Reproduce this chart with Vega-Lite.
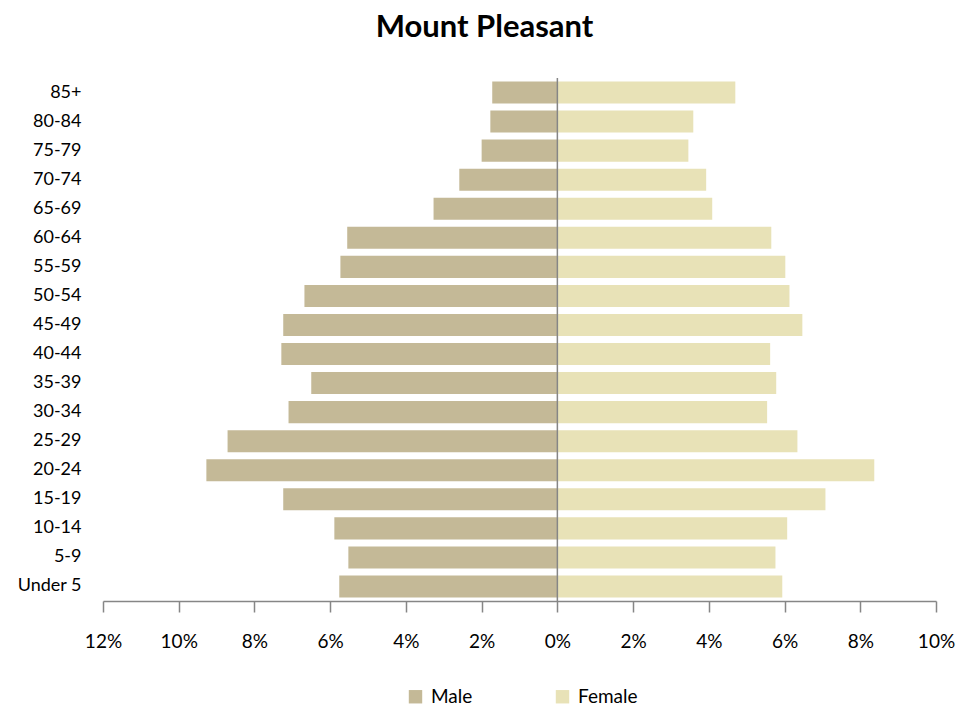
{
  "$schema": "https://vega.github.io/schema/vega-lite/v6.json",
  "autosize": {"type": "none"},
  "width": 833,
  "height": 523,
  "padding": {"left": 103, "top": 78, "right": 43, "bottom": 112},
  "background": "white",
  "title": {"text": "Mount Pleasant", "fontSize": 31, "font": "Lato", "fontWeight": "bold", "color": "#000000", "anchor": "middle", "dx": -35, "offset": 33},
  "config": {
    "view": {"stroke": null},
    "font": "Lato",
    "axis": {"labelFont": "Lato", "labelFontSize": 18, "labelColor": "#000000", "grid": false, "title": null}
  },
  "data": {
    "values": [
      {"age": "85+", "sex": "Male", "pct": 1.72}, {"age": "85+", "sex": "Female", "pct": 4.70},
      {"age": "80-84", "sex": "Male", "pct": 1.77}, {"age": "80-84", "sex": "Female", "pct": 3.59},
      {"age": "75-79", "sex": "Male", "pct": 2.00}, {"age": "75-79", "sex": "Female", "pct": 3.46},
      {"age": "70-74", "sex": "Male", "pct": 2.59}, {"age": "70-74", "sex": "Female", "pct": 3.93},
      {"age": "65-69", "sex": "Male", "pct": 3.27}, {"age": "65-69", "sex": "Female", "pct": 4.09},
      {"age": "60-64", "sex": "Male", "pct": 5.55}, {"age": "60-64", "sex": "Female", "pct": 5.65},
      {"age": "55-59", "sex": "Male", "pct": 5.73}, {"age": "55-59", "sex": "Female", "pct": 6.02},
      {"age": "50-54", "sex": "Male", "pct": 6.68}, {"age": "50-54", "sex": "Female", "pct": 6.13},
      {"age": "45-49", "sex": "Male", "pct": 7.24}, {"age": "45-49", "sex": "Female", "pct": 6.47},
      {"age": "40-44", "sex": "Male", "pct": 7.29}, {"age": "40-44", "sex": "Female", "pct": 5.62},
      {"age": "35-39", "sex": "Male", "pct": 6.50}, {"age": "35-39", "sex": "Female", "pct": 5.78},
      {"age": "30-34", "sex": "Male", "pct": 7.10}, {"age": "30-34", "sex": "Female", "pct": 5.54},
      {"age": "25-29", "sex": "Male", "pct": 8.71}, {"age": "25-29", "sex": "Female", "pct": 6.34},
      {"age": "20-24", "sex": "Male", "pct": 9.27}, {"age": "20-24", "sex": "Female", "pct": 8.37},
      {"age": "15-19", "sex": "Male", "pct": 7.24}, {"age": "15-19", "sex": "Female", "pct": 7.08},
      {"age": "10-14", "sex": "Male", "pct": 5.89}, {"age": "10-14", "sex": "Female", "pct": 6.07},
      {"age": "5-9", "sex": "Male", "pct": 5.52}, {"age": "5-9", "sex": "Female", "pct": 5.76},
      {"age": "Under 5", "sex": "Male", "pct": 5.76}, {"age": "Under 5", "sex": "Female", "pct": 5.94}
    ]
  },
  "transform": [
    {"calculate": "datum.sex === 'Male' ? -datum.pct : datum.pct", "as": "signed"}
  ],
  "layer": [
    {
      "mark": {"type": "bar"},
      "encoding": {
        "y": {
          "field": "age", "type": "nominal",
          "sort": ["85+", "80-84", "75-79", "70-74", "65-69", "60-64", "55-59", "50-54", "45-49", "40-44", "35-39", "30-34", "25-29", "20-24", "15-19", "10-14", "5-9", "Under 5"],
          "scale": {"paddingInner": 0.24, "paddingOuter": 0.12},
          "axis": {"domain": false, "ticks": false, "labelPadding": 22, "labelAlign": "right"}
        },
        "x": {
          "field": "signed", "type": "quantitative",
          "scale": {"domain": [-12, 10], "nice": false, "zero": false},
          "axis": {
            "values": [-12, -10, -8, -6, -4, -2, 0, 2, 4, 6, 8, 10],
            "labelExpr": "abs(datum.value) + '%'",
            "labelFlush": false, "labelOverlap": false, "labelFontSize": 19,
            "domainColor": "#868686", "domainWidth": 1.5,
            "tickColor": "#868686", "tickWidth": 1.5, "tickSize": 11,
            "labelPadding": 20
          }
        },
        "color": {
          "field": "sex", "type": "nominal",
          "scale": {"domain": ["Male", "Female"], "range": ["#C4B997", "#E8E2B7"]},
          "legend": {
            "title": null, "orient": "none", "direction": "horizontal",
            "legendX": 303, "legendY": 609,
            "symbolType": "square", "symbolSize": 180, "symbolStrokeWidth": 0,
            "labelFontSize": 19, "labelFont": "Lato", "labelColor": "#000000",
            "labelOffset": 6, "columnPadding": 80
          }
        }
      }
    },
    {
      "data": {"values": [{"zero": 0}]},
      "mark": {"type": "rule", "color": "#868686", "strokeWidth": 1.5},
      "encoding": {"x": {"field": "zero", "type": "quantitative"}}
    }
  ]
}
